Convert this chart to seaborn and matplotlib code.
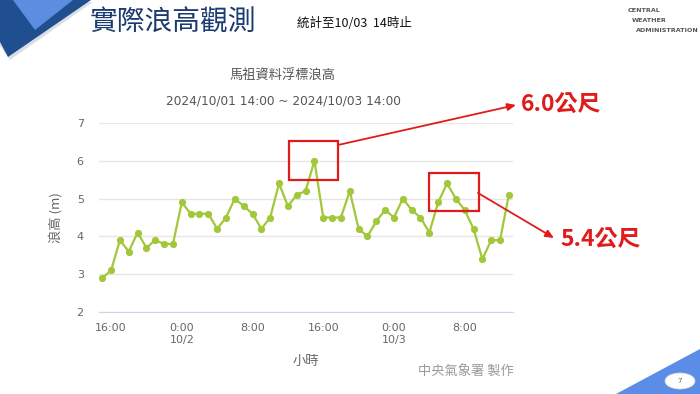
import numpy as np
import pandas as pd
import matplotlib
matplotlib.use("Agg")
import matplotlib.pyplot as plt
import matplotlib.dates as mdates
from matplotlib.patches import Polygon, Rectangle, Ellipse
import seaborn as sns

## Data ##
# hourly wave height (m), Matsu data buoy, 10/01 15:00 -> 10/03 13:00
wave_height = [2.9, 3.1, 3.9, 3.6, 4.1, 3.7, 3.9, 3.8, 3.8, 4.9,
               4.6, 4.6, 4.6, 4.2, 4.5, 5.0, 4.8, 4.6, 4.2, 4.5,
               5.4, 4.8, 5.1, 5.2, 6.0, 4.5, 4.5, 4.5, 5.2, 4.2,
               4.0, 4.4, 4.7, 4.5, 5.0, 4.7, 4.5, 4.1, 4.9, 5.4,
               5.0, 4.7, 4.2, 3.4, 3.9, 3.9, 5.1]
times = pd.date_range("2024-10-01 15:00", periods=len(wave_height), freq="h")
tick_times = pd.to_datetime(["2024-10-01 16:00", "2024-10-02 00:00", "2024-10-02 08:00",
                             "2024-10-02 16:00", "2024-10-03 00:00", "2024-10-03 08:00"])
tick_labels = ["16:00", "0:00\n10/2", "8:00", "16:00", "0:00\n10/3", "8:00"]
y_ticks = [2, 3, 4, 5, 6, 7]
peak_labels = ["6.0公尺", "5.4公尺"]

df = pd.DataFrame({"time": times, "height": wave_height})

## Style ##
sns.set_style("white")
plt.rcParams['font.family'] = ['DejaVu Sans', 'Noto Sans CJK TC']
CJK = ['Noto Sans CJK TC', 'DejaVu Sans']
W, H = 700, 394
RED = '#e01b1b'
GREEN = '#a2c73b'


def px(x, y):
    # slide pixel -> figure fraction
    return x / W, 1 - y / H


fig = plt.figure(figsize=(7, 3.94), dpi=100)
ax = fig.add_axes([99 / W, 1 - 312 / H, (513 - 99) / W, (312 - 123) / H])

sns.lineplot(data=df, x="time", y="height", ax=ax, color=GREEN, lw=1.6,
             marker='o', markersize=5.2, markeredgewidth=0, clip_on=False)

ax.set_xlim(times[0] - pd.Timedelta(minutes=22), times[-1] + pd.Timedelta(minutes=28))
ax.set_ylim(2, 7)
ax.set_yticks(y_ticks)
ax.set_xticks(tick_times)
ax.set_xticklabels(tick_labels)
ax.yaxis.grid(True, color='#e6e6e6', lw=1)
ax.set_axisbelow(True)
for s in ['top', 'left', 'right']:
    ax.spines[s].set_visible(False)
ax.spines['bottom'].set_color('#ccd6eb')
ax.tick_params(axis='x', length=5, color='#ccd6eb', labelsize=8, labelcolor='#666666', pad=3)
ax.tick_params(axis='y', length=0, labelsize=8, labelcolor='#666666', pad=11)

ax.set_xlabel("小時", family=CJK, fontsize=9.5, color='#666666')
ax.xaxis.set_label_coords(0.5, -0.228)
ax.set_ylabel("浪高 (m)", family=CJK, fontsize=9.5, color='#666666')
ax.yaxis.set_label_coords(-0.089, 0.5)

# chart titles
fig.text(*px(283, 76), "馬祖資料浮標浪高", family=CJK, fontsize=9.5, color='#555555',
         ha='center', va='center')
fig.text(*px(283, 101), "2024/10/01 14:00 ~ 2024/10/03 14:00", fontsize=8.7, color='#555555',
         ha='center', va='center')

# red boxes round the two peaks (data coords)
day2 = pd.Timestamp("2024-10-02")
day3 = pd.Timestamp("2024-10-03")
boxes = [(day2 + pd.Timedelta(hours=12, minutes=10), day2 + pd.Timedelta(hours=17, minutes=42), 5.50, 6.53),
         (day3 + pd.Timedelta(hours=4), day3 + pd.Timedelta(hours=9, minutes=34), 4.68, 5.68)]
for x0, x1, y0, y1 in boxes:
    a, b = mdates.date2num(x0), mdates.date2num(x1)
    ax.add_patch(Rectangle((a, y0), b - a, y1 - y0, fill=False, ec=RED, lw=1.6,
                           clip_on=False, zorder=5))

# arrows + labels
arrows = [((338, 145), (516, 105)), ((478, 193), (554, 238))]
label_pos = [(521, 105), (560, 240)]
for (start, end), lab, pos in zip(arrows, peak_labels, label_pos):
    ax.annotate("", xy=px(*end), xycoords='figure fraction',
                xytext=px(*start), textcoords='figure fraction',
                arrowprops=dict(arrowstyle='-|>,head_length=0.5,head_width=0.22',
                                color=RED, lw=1.3, shrinkA=0, shrinkB=0))
    fig.text(*px(*pos), lab, family=CJK, fontsize=16.5, fontweight='bold', color=RED,
             ha='left', va='center')

# slide header
fig.text(*px(90, 22), "實際浪高觀測", family=CJK, fontsize=20, fontweight='medium',
         color='#1b3a70', ha='left', va='center')
fig.text(*px(297, 23), "統計至10/03  14時止", family=CJK, fontsize=9, color='#111111',
         ha='left', va='center')

# top-left decoration
fig.add_artist(Polygon([px(0, 2), px(93, 2), px(10, 60), px(0, 46)], closed=True,
                       transform=fig.transFigure, fc='#b8c0cc', ec='none', alpha=0.5))
fig.add_artist(Polygon([px(0, 0), px(91, 0), px(8, 57), px(0, 42)], closed=True,
                       transform=fig.transFigure, fc='#1f4f8e', ec='none'))
fig.add_artist(Polygon([px(13, 0), px(73, 0), px(35, 30)], closed=True,
                       transform=fig.transFigure, fc='#5b8de0', ec='none'))

# logo text
for (x, y), word in zip([(628, 10), (632, 20), (636, 31)], ["CENTRAL", "WEATHER", "ADMINISTRATION"]):
    fig.text(*px(x, y), word, fontsize=4.6, fontweight='bold', color='#555555',
             ha='left', va='center')

# footer
fig.text(*px(466, 372), "中央氣象署 製作", family=CJK, fontsize=9.5, color='#9a9a9a',
         ha='center', va='center')
fig.add_artist(Polygon([px(616, 394), px(700, 349), px(700, 394)], closed=True,
                       transform=fig.transFigure, fc='#5b8de8', ec='none'))
fig.add_artist(Ellipse(px(680, 381), 30 / W, 16 / H, transform=fig.transFigure,
                       fc='white', ec='#dddddd', lw=0.5))
fig.text(*px(680, 381), "7", fontsize=5, color='#666666', ha='center', va='center')

fig.savefig("out.png", dpi=100)
